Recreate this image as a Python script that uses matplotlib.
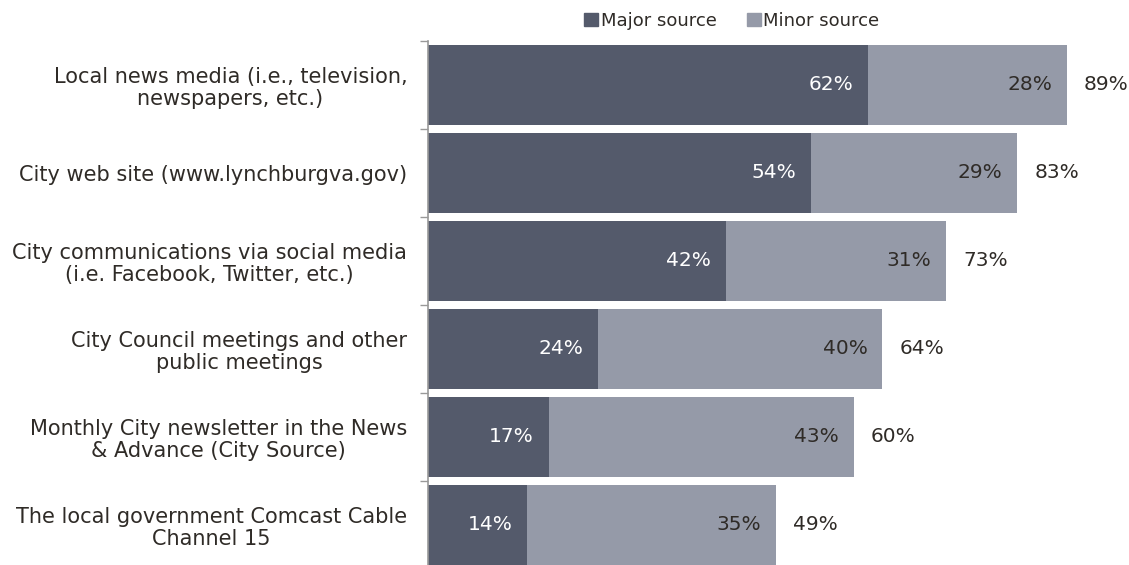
import matplotlib.pyplot as plt
from matplotlib.patches import Rectangle

categories = [
    "Local news media (i.e., television,\nnewspapers, etc.)",
    "City web site (www.lynchburgva.gov)",
    "City communications via social media\n(i.e. Facebook, Twitter, etc.)",
    "City Council meetings and other\npublic meetings",
    "Monthly City newsletter in the News\n& Advance (City Source)",
    "The local government Comcast Cable\nChannel 15",
]
major = [62, 54, 42, 24, 17, 14]
minor = [28, 29, 31, 40, 43, 35]
total = [89, 83, 73, 64, 60, 49]

major_color = "#545a6b"
minor_color = "#959aa8"
text_color = "#2f2b27"

plt.rcParams["font.family"] = ["DejaVu Sans"]

fig = plt.figure(figsize=(11.29, 5.65), dpi=100)
# plot area: left edge at x=428 px, top at y=41 px
ax = fig.add_axes([428 / 1129, (565 - 569) / 565, 1 - 428 / 1129, (569 - 41) / 565])

ys = list(range(len(categories)))
ax.barh(ys, major, height=0.91, color=major_color)
ax.barh(ys, minor, left=major, height=0.91, color=minor_color)

for y, mj, mn, tot in zip(ys, major, minor, total):
    ax.text(mj - 2.1, y, f"{mj}%", ha="right", va="center", color="white", fontsize=14.5)
    ax.text(mj + mn - 2.1, y, f"{mn}%", ha="right", va="center", color=text_color, fontsize=14.5)
    ax.text(mj + mn + 2.4, y, f"{tot}%", ha="left", va="center", color=text_color, fontsize=14.5)

ax.set_ylim(len(categories) - 0.5, -0.5)
ax.set_xlim(0, (1129 - 428) / 7.1)

# small ticks between the categories, labels in the middle of each slot
ax.set_yticks([y - 0.5 for y in ys] + [len(ys) - 0.5])
ax.set_yticklabels([])
ax.tick_params(axis="y", length=6, color="#999999", width=1)
ax.set_yticks(ys, minor=True)
ax.set_yticklabels(categories, minor=True, fontsize=15, color=text_color, ha="right",
                   multialignment="center", linespacing=1.1)
ax.tick_params(axis="y", which="minor", length=0, pad=15)
ax.set_xticks([])

for side in ["top", "right", "bottom"]:
    ax.spines[side].set_visible(False)
ax.spines["left"].set_color("#999999")
ax.spines["left"].set_linewidth(1.2)

handles = [Rectangle((0, 0), 1, 1, color=major_color), Rectangle((0, 0), 1, 1, color=minor_color)]
fig.legend(handles, ["Major source", "Minor source"], loc="center", bbox_to_anchor=(732 / 1129, 1 - 21 / 565),
           ncol=2, frameon=False, fontsize=13, handlelength=0.75, handleheight=0.75, handletextpad=0.15,
           columnspacing=1.7, labelcolor=text_color)

fig.savefig("out.png", dpi=100)
